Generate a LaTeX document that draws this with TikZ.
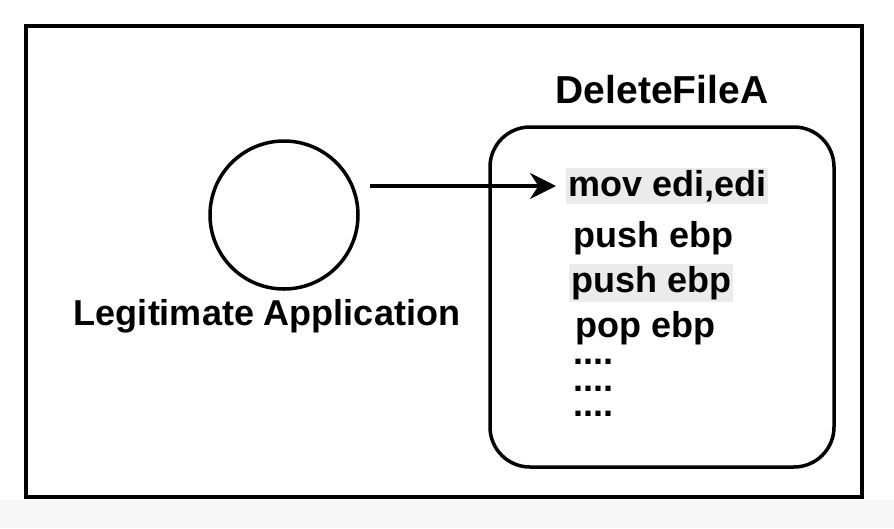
\documentclass[tikz,border=0pt]{standalone}
\usepackage{fontspec}
\setmainfont{Liberation Sans}
\usetikzlibrary{arrows.meta}
\begin{document}
\begin{tikzpicture}[x=1pt,y=-1pt,
  lbl/.style={font=\fontsize{36}{40}\selectfont\bfseries, inner sep=0pt},
  code/.style={font=\fontsize{36}{40}\selectfont\bfseries, anchor=west, inner sep=2pt},
  hl/.style={code, fill=black!8}]
\useasboundingbox (0,0) rectangle (894,528);
\fill[black!3] (0,500) rectangle (894,528);
\draw[line width=4pt, fill=white] (26,26) rectangle (862,497);
\node[circle, draw, line width=3.5pt, minimum size=148pt, inner sep=0pt] (app) at (284,215) {};
\node[lbl] (applbl) at (267,316) {Legitimate Application};
\node[draw, line width=3.5pt, rounded corners=40pt, minimum width=344pt, minimum height=340pt] (fn) at (662,297) {};
\node[lbl, font=\fontsize{39}{44}\selectfont\bfseries] (fnlbl) at (662,90) {DeleteFileA};
\node[hl] (l1) at (566,186) {mov edi,edi};
\node[code] (l2) at (571,238) {push ebp};
\node[hl] (l3) at (569,283) {push ebp};
\node[code] (l4) at (573,328) {pop ebp};
\node[code] (l5) at (571,362) {....};
\node[code] (l6) at (571,389) {....};
\node[code] (l7) at (571,414) {....};
\coordinate (s) at (370,186);
\draw[line width=3.5pt, -{Stealth[length=26pt,width=26pt]}] (s) -- ([xshift=-10pt]l1.west);
\end{tikzpicture}
\end{document}
